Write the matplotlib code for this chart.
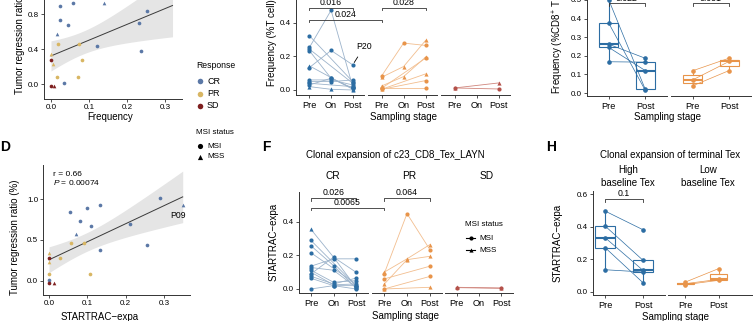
import numpy as np
import matplotlib.pyplot as plt
from matplotlib.ticker import FormatStrFormatter

plt.rcParams['font.family'] = ['Liberation Sans', 'DejaVu Sans']
plt.rcParams['mathtext.fontset'] = 'custom'
plt.rcParams['mathtext.rm'] = 'Liberation Sans'
plt.rcParams['mathtext.it'] = 'Liberation Sans:italic'

nan = np.nan
W, H = 755, 321

# one entry per patient
ratio = [1.01, 0.93, 0.93, 0.89, 0.84, 0.73, 0.70, 0.67, 0.57, 0.44, 0.38,
         0.46, 0.46, 0.34, 0.28, 0.28, 0.23, 0.08, 0.085, 0.01, -0.02, -0.02]
response = ['CR', 'CR', 'CR', 'CR', 'CR', 'CR', 'CR', 'CR', 'CR', 'CR', 'CR',
            'PR', 'PR', 'PR', 'SD', 'PR', 'PR', 'PR', 'PR', 'CR', 'SD', 'SD']
msi = ['MSI', 'MSS', 'MSI', 'MSI', 'MSI', 'MSI', 'MSI', 'MSI', 'MSS', 'MSI', 'MSI',
       'MSI', 'MSI', 'MSS', 'MSI', 'MSI', 'MSS', 'MSI', 'MSI', 'MSI', 'MSI', 'MSS']
frequency = [0.32, 0.14, 0.057, 0.025, 0.253, 0.024, 0.233, 0.045, 0.017, 0.122, 0.237,
             0.019, 0.075, 0.0, 0.0, 0.082, 0.004, 0.017, 0.071, 0.033, 0.0, 0.009]
expa = [0.29, 0.349, 0.134, 0.099, 0.056, 0.08, 0.211, 0.11, 0.07, 0.256, 0.134,
        0.058, 0.091, 0.0, 0.0, 0.028, 0.0, 0.0, 0.106, 0.0, 0.0, 0.014]

stages = ['Pre', 'On', 'Post']

# frequency (% T cell) at Pre / On / Post
tcell_cr = [[0.324, nan, 0.05], [0.254, 0.476, 0.02], [0.244, nan, 0.04],
            [0.234, 0.07, 0.01], [0.144, nan, 0.004], [0.134, 0.236, 0.15],
            [0.06, 0.06, 0.03], [0.05, 0.05, 0.06], [0.04, nan, 0.02],
            [0.03, 0.07, 0.01], [0.02, 0.004, 0.0]]
tcell_cr_msi = ['MSI', 'MSI', 'MSI', 'MSI', 'MSS', 'MSI', 'MSI', 'MSI', 'MSI', 'MSI', 'MSS']
tcell_pr = [[0.084, 0.28, 0.266], [0.076, 0.14, 0.296], [0.024, 0.08, 0.196],
            [0.01, nan, 0.19], [0.004, nan, 0.096], [0.004, nan, 0.056], [0.01, nan, 0.01]]
tcell_pr_msi = ['MSI', 'MSS', 'MSS', 'MSI', 'MSS', 'MSI', 'MSI']
tcell_sd = [[0.012, nan, 0.006], [0.012, nan, 0.042]]
tcell_sd_msi = ['MSI', 'MSS']

# STARTRAC-expa of c23_CD8_Tex_LAYN at Pre / On / Post
expa_cr = [[0.356, 0.19, 0.01], [0.29, nan, 0.02], [0.258, 0.14, 0.005],
           [0.216, nan, 0.03], [0.136, 0.18, 0.18], [0.128, 0.112, 0.01],
           [0.112, 0.04, 0.05], [0.09, 0.19, 0.10], [0.076, 0.03, 0.065],
           [0.064, 0.02, 0.02], [0.0, 0.02, 0.0], [0.10, 0.025, 0.03]]
expa_cr_msi = ['MSS', 'MSI', 'MSI', 'MSI', 'MSI', 'MSI', 'MSI', 'MSI', 'MSI', 'MSI', 'MSI', 'MSS']
expa_pr = [[0.10, 0.18, 0.265], [0.09, 0.45, 0.235], [0.028, 0.175, 0.195],
           [0.06, nan, 0.136], [0.0, nan, 0.075], [0.0, nan, 0.01]]
expa_pr_msi = ['MSS', 'MSI', 'MSS', 'MSI', 'MSI', 'MSS']
expa_sd = [[0.008, nan, 0.004], [0.01, nan, 0.006]]
expa_sd_msi = ['MSI', 'MSS']

# frequency (% CD8+ T cell), high / low baseline groups
cd8_high_pre = [0.5, 0.375, 0.262, 0.245, 0.168]
cd8_high_post = [0.021, 0.015, 0.187, 0.121, 0.166]
cd8_low_pre = [0.12, 0.071, 0.039]
cd8_low_post = [0.1875, 0.17, 0.121]

# clonal expansion of terminal Tex
tex_high_pre = [0.498, 0.406, 0.334, 0.273, 0.137]
tex_high_post = [0.383, 0.195, 0.133, 0.057, 0.123]
tex_low_pre = [0.061, 0.051, 0.045]
tex_low_post = [0.144, 0.078, 0.072]

resp_colors = {'CR': '#5B78A6', 'PR': '#D8B663', 'SD': '#7E1F1F'}
group_colors = {'CR': '#2C6DA3', 'PR': '#E8944A', 'SD': '#B4514A'}
line_colors = {'CR': '#9CB3CB', 'PR': '#F2BE8F', 'SD': '#D0867D'}
MARK = {'MSI': 'o', 'MSS': '^'}
AXC = '#333333'

fig = plt.figure(figsize=(W / 100, H / 100), dpi=100)


def px_axes(l, t, r, b):
    return fig.add_axes([l / W, 1 - b / H, (r - l) / W, (b - t) / H])


def style(ax, yaxis=True):
    for s in ['top', 'right']:
        ax.spines[s].set_visible(False)
    for s in ['left', 'bottom']:
        ax.spines[s].set_color(AXC)
        ax.spines[s].set_linewidth(0.7)
    ax.spines['left'].set_visible(yaxis)
    ax.tick_params(length=2, width=0.6, color=AXC, labelsize=5.8, pad=1.5)
    if not yaxis:
        ax.tick_params(axis='y', left=False, labelleft=False)
    ax.yaxis.set_major_formatter(FormatStrFormatter('%.1f'))
    ax.patch.set_visible(False)


def scatter_panel(ax, x):
    for xi, yi, r, m in zip(x, ratio, response, msi):
        ax.scatter(xi, yi, s=7, marker=MARK[m], color=resp_colors[r], lw=0, zorder=3)
    x = np.array(x)
    y = np.array(ratio)
    b, a = np.polyfit(x, y, 1)
    xs = np.linspace(x.min(), x.max(), 100)
    fit = a + b * xs
    n = len(x)
    s = np.sqrt(((y - (a + b * x)) ** 2).sum() / (n - 2))
    se = s * np.sqrt(1 / n + (xs - x.mean()) ** 2 / ((x - x.mean()) ** 2).sum())
    ax.fill_between(xs, fit - 2.086 * se, fit + 2.086 * se, color='#DADADA', alpha=0.7, lw=0, zorder=1)
    ax.plot(xs, fit, color='#3A3A3A', lw=0.7, zorder=2)
    ax.xaxis.set_major_formatter(FormatStrFormatter('%.1f'))


def facets(edges, top, bottom, ylim, xlims):
    axes = []
    for i, ((l, r), xl) in enumerate(zip(edges, xlims)):
        ax = px_axes(l, top, r, bottom)
        ax.set_ylim(ylim)
        ax.set_xlim(xl)
        style(ax, yaxis=(i == 0))
        ax.tick_params(axis='x', labelsize=6.6, pad=2)
        axes.append(ax)
    return axes


def paired(ax, rows, kinds, grp):
    for row, kind in zip(rows, kinds):
        y = np.array(row, dtype=float)
        ok = ~np.isnan(y)
        x = np.arange(1, 4)[ok]
        ax.plot(x, y[ok], color=line_colors[grp], lw=0.6, zorder=2)
        ax.plot(x, y[ok], ls='none', marker=MARK[kind], ms=3, color=group_colors[grp],
                mec='none', zorder=3)
    ax.set_xticks([1, 2, 3], stages)


def box_pair(ax, pre, post, color):
    ax.boxplot([pre, post], positions=[1, 2], widths=0.52, showfliers=False,
               showcaps=False, patch_artist=True,
               boxprops=dict(facecolor='white', edgecolor=color, lw=0.8),
               whiskerprops=dict(color=color, lw=0.8),
               medianprops=dict(color=color, lw=1.5), zorder=1)
    for a, b in zip(pre, post):
        ax.plot([1, 2], [a, b], color=color, lw=0.5, zorder=2)
    ax.plot(np.ones(len(pre)), pre, 'o', ms=2.3, color=color, zorder=3)
    ax.plot(np.full(len(post), 2), post, 'o', ms=2.3, color=color, zorder=3)
    ax.set_xticks([1, 2], ['Pre', 'Post'])


# C: frequency vs tumor regression
ax_c = px_axes(44, -25, 182, 99)
style(ax_c)
scatter_panel(ax_c, frequency)
ax_c.set_xlim(-0.0184, 0.345)
ax_c.set_ylim(-0.171, 1.246)
ax_c.set_xticks([0, 0.1, 0.2, 0.3])
ax_c.set_yticks([0, 0.4, 0.8, 1.2])

# D: STARTRAC-expa vs tumor regression
ax_d = px_axes(43, 165, 190, 295)
style(ax_d)
scatter_panel(ax_d, expa)
ax_d.set_xlim(-0.0157, 0.368)
ax_d.set_ylim(-0.171, 1.415)
ax_d.set_xticks([0, 0.1, 0.2, 0.3])
ax_d.set_yticks([0, 0.5, 1.0])
ax_d.annotate('P09', (expa[1], ratio[1]), xytext=(-3.5, -7.5), textcoords='offset points',
              ha='center', va='center', fontsize=6.2)

# frequency (% T cell) by response group
t1, t2, t3 = facets([(296, 364), (368, 437), (441, 510)], -13, 95, (-0.03, 0.615),
                    [(0.38, 3.52)] * 3)
paired(t1, tcell_cr, tcell_cr_msi, 'CR')
paired(t2, tcell_pr, tcell_pr_msi, 'PR')
paired(t3, tcell_sd, tcell_sd_msi, 'SD')
t1.set_yticks([0, 0.2, 0.4])
t1.annotate('P20', (3, tcell_cr[5][2]), xytext=(8.5, 13.5), textcoords='offset points',
            ha='center', va='center', fontsize=6.3,
            arrowprops=dict(arrowstyle='-', lw=0.6, color='black', shrinkA=3, shrinkB=2))

# frequency (% CD8+ T cell), boxplots
b1, b2 = facets([(587, 667), (671, 751)], -40, 96, (-0.016, 0.715), [(0.4, 2.6)] * 2)
box_pair(b1, cd8_high_pre, cd8_high_post, group_colors['CR'])
box_pair(b2, cd8_low_pre, cd8_low_post, group_colors['PR'])
b1.set_yticks(np.arange(0, 0.51, 0.1))

# F: clonal expansion of c23_CD8_Tex_LAYN
f1, f2, f3 = facets([(299, 368), (372, 442), (445, 513)], 192, 293, (-0.024, 0.579),
                    [(0.47, 3.53)] * 3)
paired(f1, expa_cr, expa_cr_msi, 'CR')
paired(f2, expa_pr, expa_pr_msi, 'PR')
paired(f3, expa_sd, expa_sd_msi, 'SD')
f1.set_yticks([0, 0.2, 0.4])

# H: clonal expansion of terminal Tex
h1, h2 = facets([(593, 665), (668, 752)], 191, 295, (-0.0185, 0.6215),
                [(0.68, 2.58), (0.48, 3.0)])
box_pair(h1, tex_high_pre, tex_high_post, group_colors['CR'])
box_pair(h2, tex_low_pre, tex_low_post, group_colors['PR'])
h1.set_yticks([0, 0.2, 0.4, 0.6])

# overlay in pixel units for labels, legends and brackets
ov = fig.add_axes([0, 0, 1, 1], zorder=10)
ov.set_xlim(0, W)
ov.set_ylim(H, 0)
ov.axis('off')


def txt(x, y, s, size=7, ha='center', va='center', **kw):
    ov.text(x, y, s, fontsize=size, ha=ha, va=va, **kw)


def to_px(ax, x, y):
    return ov.transData.inverted().transform(ax.transData.transform((x, y)))


def bracket(ax1, x1, ax2, x2, y, label, tip=2.5):
    xa, ya = to_px(ax1, x1, y)
    xb, _ = to_px(ax2, x2, y)
    ov.plot([xa, xa, xb, xb], [ya + tip, ya, ya, ya + tip], color=AXC, lw=0.6)
    ov.text((xa + xb) / 2, ya - 0.8, label, fontsize=6.3, ha='center', va='bottom')


# top row labels
txt(20, 94, 'Tumor regression ratio (%)', rotation=90, va='bottom')
txt(110, 117, 'Frequency')
txt(272, 86, 'Frequency (%T cell)', rotation=90, va='bottom')
txt(404, 117, 'Sampling stage')
txt(558, 94, 'Frequency (%CD8$^{+}$ T cell)', rotation=90, va='bottom')
txt(668, 117, 'Sampling stage')

# response / MSI legends
txt(196, 66, 'Response', size=6.2, ha='left')
for i, r in enumerate(['CR', 'PR', 'SD']):
    ov.scatter(200, 81 + 12.5 * i, s=16, color=resp_colors[r], lw=0)
    txt(207, 81 + 12.5 * i, r, size=6.5, ha='left')
txt(196, 132, 'MSI status', size=5.8, ha='left')
for i, m in enumerate(['MSI', 'MSS']):
    ov.scatter(200, 146 + 11 * i, s=14, marker=MARK[m], color='black', lw=0)
    txt(207, 146 + 11 * i, m, size=5.8, ha='left')

# panel letters and titles
txt(0.5, 147, 'D', size=10, ha='left', weight='bold')
txt(262, 147, 'F', size=10, ha='left', weight='bold')
txt(546, 147, 'H', size=10, ha='left', weight='bold')
txt(395, 155, 'Clonal expansion of c23_CD8_Tex_LAYN')
txt(670, 155, 'Clonal expansion of terminal Tex')

# D annotations
txt(53, 174, 'r = 0.66', size=6, ha='left')
txt(53, 182.5, '$P$ = 0.00074', size=6, ha='left')
txt(15, 237, 'Tumor regression ratio (%)', rotation=90)
txt(100, 317, 'STARTRAC\u2212expa')

# F labels and legend
for x, s in [(333, 'CR'), (409, 'PR'), (487, 'SD')]:
    txt(x, 176, s, size=7.3)
txt(274, 242, 'STARTRAC\u2212expa', rotation=90)
txt(406, 316, 'Sampling stage')
txt(465, 224, 'MSI status', size=5.8, ha='left')
for i, m in enumerate(['MSI', 'MSS']):
    yy = 238 + 12 * i
    ov.plot([466, 475], [yy, yy], color='black', lw=0.8)
    ov.plot(470.5, yy, marker=MARK[m], ms=3, color='black', mec='none')
    txt(479, yy, m, size=5.8, ha='left')

# H labels
txt(628, 170, 'High')
txt(628, 183, 'baseline Tex')
txt(708, 170, 'Low')
txt(708, 183, 'baseline Tex')
txt(558, 243, 'STARTRAC\u2212expa', rotation=90)
txt(675, 317, 'Sampling stage')

# significance brackets
bracket(t1, 1, t1, 3, 0.49, '0.016')
bracket(t1, 1, t2, 1, 0.418, '0.024')
bracket(t2, 1, t2, 3, 0.49, '0.028')
bracket(b1, 1, b1, 2, 0.482, '0.022')
bracket(b2, 1, b2, 2, 0.482, '0.031')
bracket(f1, 1, f1, 3, 0.543, '0.026')
bracket(f1, 1, f2, 1, 0.484, '0.0065')
bracket(f2, 1, f2, 3, 0.543, '0.064')
bracket(h1, 1, h1, 2, 0.572, '0.1')

fig.savefig('out.png', dpi=100)
